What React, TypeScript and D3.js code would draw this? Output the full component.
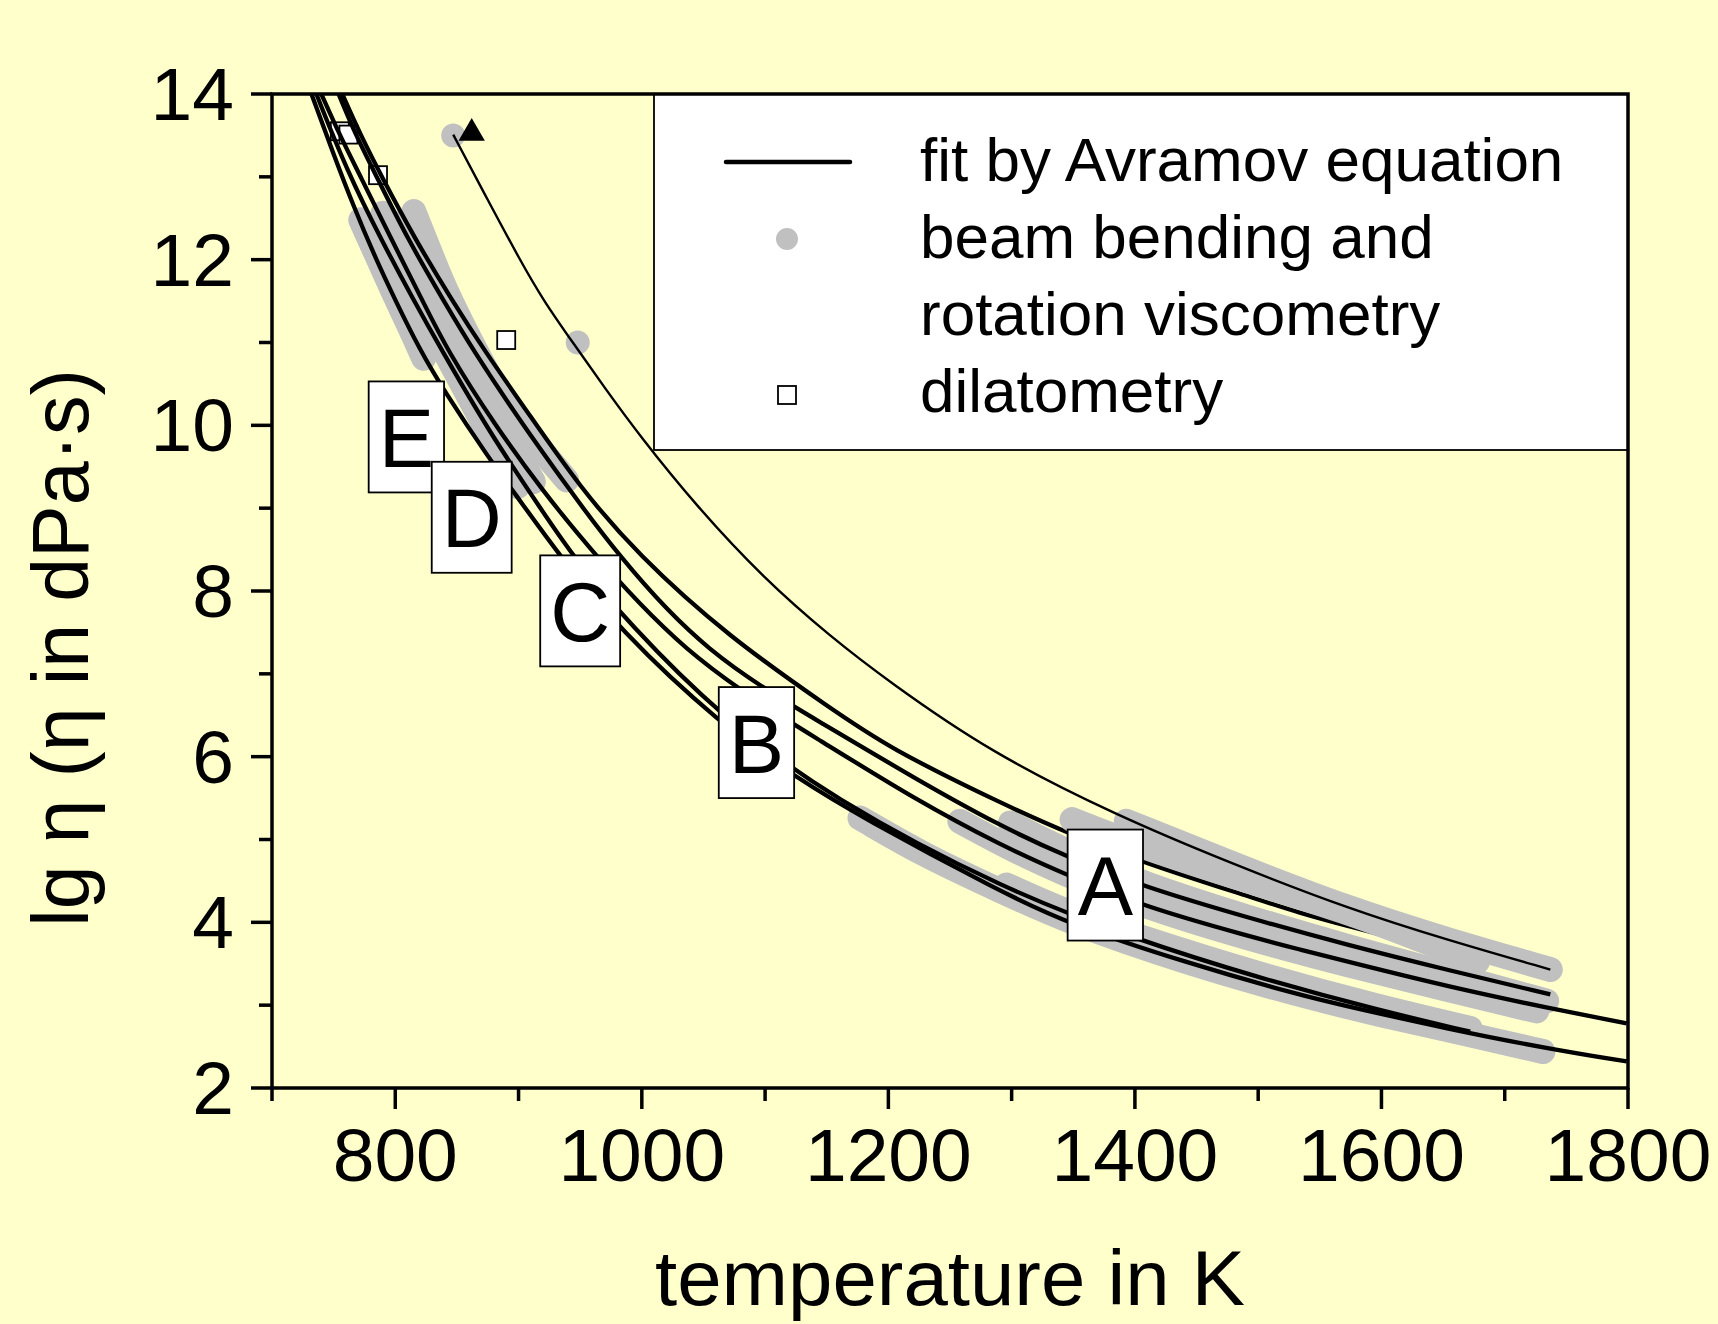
import React from 'react';
import * as d3 from 'd3';

const width = 1718;
const height = 1324;
const plot = { left: 272, right: 1628, top: 94, bottom: 1088 };

// Avramov fit curves as [temperature in K, lg eta]
const fitThin = [[847, 13.51], [875, 12.72], [901, 12.0], [920, 11.51], [944, 11.0], [970, 10.45], [999, 9.86], [1044, 9.03], [1099, 8.15], [1153, 7.45], [1200, 6.91], [1283, 6.05], [1385, 5.29], [1480, 4.7], [1574, 4.16], [1655, 3.78], [1737, 3.43]];
const fit1 = [[757, 14.0], [772, 13.5], [789, 13.0], [816, 12.25], [846, 11.51], [872, 10.91], [910, 10.1], [950, 9.25], [996, 8.45], [1070, 7.45], [1153, 6.585], [1201, 6.1], [1291, 5.44], [1345, 5.08], [1407, 4.72], [1493, 4.31], [1534, 4.11], [1574, 3.95], [1615, 3.79]];
const fit2 = [[754, 14.0], [768, 13.5], [785, 13.0], [810, 12.25], [839, 11.51], [863, 10.91], [900, 10.08], [940, 9.25], [977, 8.5], [1050, 7.25], [1153, 6.344], [1220, 5.75], [1291, 5.16], [1345, 4.79], [1407, 4.43], [1493, 4.05], [1574, 3.72], [1655, 3.42], [1737, 3.13]];
const fit3 = [[740, 14.0], [755, 13.5], [772, 13.0], [795, 12.3], [822, 11.51], [842, 10.91], [880, 10.02], [920, 9.2], [961, 8.45], [1040, 7.15], [1153, 6.12], [1220, 5.5], [1291, 4.93], [1345, 4.57], [1407, 4.19], [1493, 3.83], [1534, 3.67], [1574, 3.52], [1655, 3.22], [1737, 2.96], [1799, 2.78]];
const fit4 = [[732, 14.0], [750, 13.27], [766, 12.65], [783, 12.05], [800, 11.51], [820, 10.91], [839, 10.43], [877, 9.58], [895, 9.22], [933, 8.43], [982, 7.53], [1063, 6.4], [1128, 5.72], [1177, 5.28], [1291, 4.37], [1345, 3.99], [1440, 3.52], [1534, 3.12], [1574, 2.98], [1655, 2.71], [1737, 2.47], [1799, 2.32]];
const fit5 = [[736, 14.0], [760, 13.1], [790, 12.2], [815, 11.51], [836, 10.95], [877, 9.9], [920, 8.95], [945, 8.4], [990, 7.6], [1063, 6.5], [1153, 5.5], [1296, 4.38], [1400, 3.8], [1500, 3.33], [1600, 2.93], [1672, 2.68]];

// beam bending / rotation viscometry, dense enough to read as bands
const bendA = [[772, 12.48], [785, 12.05], [800, 11.55], [812, 11.18], [823, 10.81]];
const bendB = [[790, 12.56], [805, 12.05], [818, 11.51], [845, 10.75], [872, 10.0], [899, 9.26]];
const bendC = [[797, 12.45], [812, 11.95], [831, 11.51], [860, 10.7], [888, 9.95], [912, 9.32]];
const bendD = [[815, 12.58], [828, 12.1], [840, 11.65], [860, 11.05], [883, 10.4], [910, 9.85], [939, 9.34]];
const rot4 = [[1177, 5.26], [1230, 4.8], [1291, 4.38], [1345, 4.01], [1440, 3.52], [1534, 3.12], [1600, 2.88], [1670, 2.65], [1731, 2.44]];
const rot5 = [[1296, 4.45], [1345, 4.12], [1400, 3.84], [1500, 3.37], [1600, 2.97], [1672, 2.72]];
const rot3 = [[1258, 5.22], [1300, 4.88], [1345, 4.57], [1407, 4.19], [1493, 3.8], [1574, 3.48], [1650, 3.2], [1726, 2.93]];
const rot2 = [[1299, 5.2], [1345, 4.85], [1407, 4.46], [1493, 4.05], [1574, 3.7], [1655, 3.37], [1734, 3.05]];
const rot1 = [[1349, 5.24], [1407, 4.9], [1493, 4.49], [1574, 4.12], [1630, 3.8], [1678, 3.53]];
const rotThin = [[1393, 5.22], [1480, 4.7], [1574, 4.16], [1655, 3.78], [1737, 3.43]];

// single points
const dotT = [847, 948];
const dotLg = [13.5, 11.0];
const dilT = [755, 762, 786, 890];
const dilLg = [13.55, 13.51, 13.02, 11.03];
const triT = [862];
const triLg = [13.55];

// glass labels
const labelText = ['E', 'D', 'C', 'B', 'A'];
const labelT = [809, 862, 950, 1093, 1376];
const labelLg = [9.86, 8.89, 7.76, 6.17, 4.45];

const xTicks = [800, 1000, 1200, 1400, 1600, 1800];
const xMinor = [700, 900, 1100, 1300, 1500, 1700];
const yTicks = [2, 4, 6, 8, 10, 12, 14];
const yMinor = [3, 5, 7, 9, 11, 13];

const legendText = ['fit by Avramov equation', 'beam bending and', 'rotation viscometry', 'dilatometry'];

const font = "'Liberation Sans', Arial, Helvetica, sans-serif";
const letterEm = { A: 0.667, B: 0.667, C: 0.722, D: 0.722, E: 0.667 };
const gray = '#c0c0c0';

export default function App() {
  const x = d3.scaleLinear().domain([700, 1800]).range([plot.left, plot.right]);
  const y = d3.scaleLinear().domain([2, 14]).range([plot.bottom, plot.top]);
  const line = d3.line<number[]>().x(d => x(d[0])).y(d => y(d[1])).curve(d3.curveBasis);

  const band = (b: number[][], key: string) => (
    <path key={key} d={line(b) || ''} fill="none" stroke={gray} strokeWidth={25}
      strokeLinecap="round" strokeLinejoin="round" />
  );
  const fit = (pts: number[][], w: number, key: string) => (
    <path key={key} d={line(pts) || ''} fill="none" stroke="#000" strokeWidth={w} strokeLinejoin="round" />
  );
  const tri = d3.symbol(d3.symbolTriangle, 300)();
  const sq = 18;

  return (
    <svg width={width} height={height} style={{ position: 'absolute', left: 0, top: 0 }} fontFamily={font}>
      <rect width={width} height={height} fill="#ffffcc" />

      {/* measured data bands */}
      {[bendA, bendB, bendC, bendD, rot4, rot5, rot3, rot2].map((b, i) => band(b, 'b' + i))}
      {dotT.map((t, i) => (
        <circle key={'d' + i} cx={x(t)} cy={y(dotLg[i])} r={12} fill={gray} />
      ))}
      {dilT.map((t, i) => (
        <rect key={'s' + i} x={x(t) - sq / 2} y={y(dilLg[i]) - sq / 2} width={sq} height={sq}
          fill="#fff" stroke="#000" strokeWidth={1.8} />
      ))}

      {/* fits, the upper ones partly under their own data */}
      {fit(fit4, 4.3, 'f4')}
      {fit(fit5, 4.3, 'f5')}
      {fit(fit3, 4.3, 'f3')}
      {fit(fit2, 4.3, 'f2')}
      {fit(fit1, 4.3, 'f1')}
      {band(rot1, 'r1')}
      {band(rotThin, 'rt')}
      {fit(fitThin, 2.4, 'ft')}
      {triT.map((t, i) => (
        <path key={'t' + i} d={tri || ''} transform={`translate(${x(t)},${y(triLg[i]) + 2})`} fill="#000" />
      ))}

      {/* labels */}
      {labelText.map((s, i) => {
        const w = letterEm[s] * 83 + 20;
        const cx = x(labelT[i]);
        const cy = y(labelLg[i]);
        return (
          <g key={'l' + i}>
            <rect x={cx - w / 2} y={cy - 55.5} width={w} height={111} fill="#fff" stroke="#000" strokeWidth={1.8} />
            <text x={cx} y={cy + 30} textAnchor="middle" fontSize={83}>{s}</text>
          </g>
        );
      })}

      {/* legend */}
      <rect x={654} y={plot.top} width={plot.right - 654} height={356} fill="#fff" stroke="#000" strokeWidth={1.8} />
      <line x1={726} x2={850} y1={162} y2={162} stroke="#000" strokeWidth={4.5} strokeLinecap="round" />
      <circle cx={787} cy={239} r={11} fill={gray} />
      <rect x={787 - 9} y={395 - 9} width={18} height={18} fill="#fff" stroke="#000" strokeWidth={1.8} />
      {legendText.map((s, i) => (
        <text key={'lg' + i} x={920} y={181 + i * 77} fontSize={62}>{s}</text>
      ))}

      {/* frame and axes */}
      <rect x={plot.left} y={plot.top} width={plot.right - plot.left} height={plot.bottom - plot.top}
        fill="none" stroke="#000" strokeWidth={3.5} />
      {yTicks.map(v => (
        <g key={'yt' + v}>
          <line x1={plot.left - 21} x2={plot.left} y1={y(v)} y2={y(v)} stroke="#000" strokeWidth={3.5} />
          <text x={234} y={y(v) + 26} textAnchor="end" fontSize={75}>{v}</text>
        </g>
      ))}
      {yMinor.map(v => (
        <line key={'ym' + v} x1={plot.left - 13} x2={plot.left} y1={y(v)} y2={y(v)} stroke="#000" strokeWidth={3.5} />
      ))}
      {xTicks.map(v => (
        <g key={'xt' + v}>
          <line x1={x(v)} x2={x(v)} y1={plot.bottom} y2={plot.bottom + 21} stroke="#000" strokeWidth={3.5} />
          <text x={x(v)} y={1181} textAnchor="middle" fontSize={75}>{v}</text>
        </g>
      ))}
      {xMinor.map(v => (
        <line key={'xm' + v} x1={x(v)} x2={x(v)} y1={plot.bottom} y2={plot.bottom + 13} stroke="#000" strokeWidth={3.5} />
      ))}

      <text x={(plot.left + plot.right) / 2} y={1305} textAnchor="middle" fontSize={77}
        textLength={590} lengthAdjust="spacingAndGlyphs">temperature in K</text>
      <text transform="translate(88,648) rotate(-90)" textAnchor="middle" fontSize={79}>lg η (η in dPa·s)</text>
    </svg>
  );
}
